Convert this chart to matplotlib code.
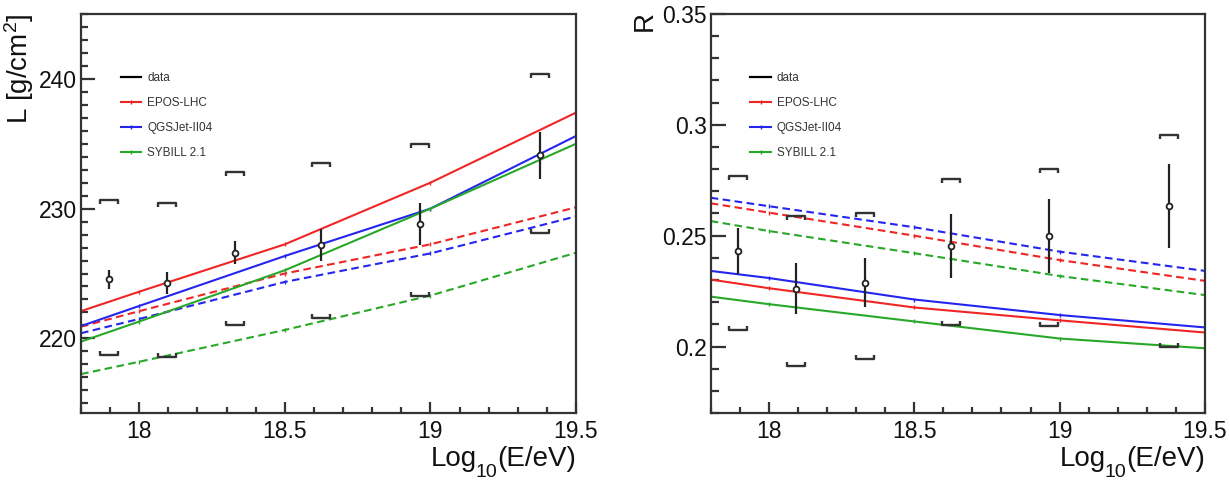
import matplotlib
matplotlib.use("Agg")
import matplotlib.pyplot as plt
from matplotlib.path import Path
from matplotlib.ticker import MultipleLocator, FuncFormatter
import numpy as np

plt.rcParams['font.family'] = ['Liberation Sans', 'DejaVu Sans']
plt.rcParams['mathtext.fontset'] = 'custom'
plt.rcParams['mathtext.rm'] = 'Liberation Sans'
plt.rcParams['mathtext.it'] = 'Liberation Sans:italic'
plt.rcParams['mathtext.default'] = 'regular'
plt.rcParams['lines.scale_dashes'] = False

# ---------------- data ----------------
data_x = [17.895, 18.095, 18.33, 18.625, 18.965, 19.375]

L_val = [224.55, 224.3, 226.6, 227.2, 228.8, 234.1]
L_err = [0.73, 0.85, 0.87, 1.2, 1.6, 1.8]
L_sys_up = [230.7, 230.4, 232.8, 233.5, 235.0, 240.4]
L_sys_lo = [218.7, 218.6, 221.0, 221.6, 223.25, 228.1]

R_val = [0.2431, 0.2261, 0.2288, 0.2453, 0.2498, 0.2633]
R_err = [0.0105, 0.0115, 0.0112, 0.0143, 0.0167, 0.019]
R_sys_up = [0.2769, 0.2588, 0.2604, 0.2757, 0.2802, 0.2956]
R_sys_lo = [0.2073, 0.1913, 0.1943, 0.2096, 0.2092, 0.2000]

model_x = [17.8, 18.0, 18.5, 19.0, 19.5]
models = ["EPOS-LHC", "QGSJet-II04", "SYBILL 2.1"]

L_solid = {
    "EPOS-LHC":    [222.1, 223.6, 227.25, 232.0, 237.4],
    "QGSJet-II04": [220.95, 222.5, 226.35, 230.0, 235.6],
    "SYBILL 2.1":  [219.75, 221.3, 225.25, 230.0, 235.0],
}
L_dashed = {
    "EPOS-LHC":    [220.9, 222.1, 225.0, 227.25, 230.1],
    "QGSJet-II04": [220.4, 221.5, 224.35, 226.55, 229.4],
    "SYBILL 2.1":  [217.25, 218.2, 220.65, 223.3, 226.6],
}
R_solid = {
    "EPOS-LHC":    [0.2302, 0.2263, 0.2176, 0.2118, 0.2063],
    "QGSJet-II04": [0.2341, 0.2309, 0.2212, 0.2142, 0.2086],
    "SYBILL 2.1":  [0.2225, 0.2191, 0.2113, 0.2036, 0.1992],
}
R_dashed = {
    "EPOS-LHC":    [0.2646, 0.2604, 0.2500, 0.2390, 0.2296],
    "QGSJet-II04": [0.2671, 0.2633, 0.2538, 0.2428, 0.2341],
    "SYBILL 2.1":  [0.2566, 0.2521, 0.2421, 0.2318, 0.2232],
}

colors = {"EPOS-LHC": "#f02525", "QGSJet-II04": "#2525f0", "SYBILL 2.1": "#28a828"}

# ---------------- style ----------------
W, H = 1230, 480
fig = plt.figure(figsize=(W / 100, H / 100), dpi=100)

ax1 = fig.add_axes([81 / W, 67 / H, 495 / W, 399 / H])
ax2 = fig.add_axes([710.7 / W, 67 / H, 494.3 / W, 399 / H])

up_bracket = Path([(-1, -0.45), (-1, 0), (1, 0), (1, -0.45)],
                  [Path.MOVETO, Path.LINETO, Path.LINETO, Path.LINETO])
lo_bracket = Path([(-1, 0.45), (-1, 0), (1, 0), (1, 0.45)],
                  [Path.MOVETO, Path.LINETO, Path.LINETO, Path.LINETO])

spine_col = "#333333"
gfmt = FuncFormatter(lambda v, p: f"{v:g}")


def draw_panel(ax, val, err, sup, slo, solid, dashed, ylim, ymaj, ymin_, ylen):
    handles = []
    h, = ax.plot([], [], color="black", lw=1.6, label="data")
    handles.append(h)
    for m in models:
        hl, = ax.plot(model_x, solid[m], color=colors[m], lw=1.5, label=m,
                      marker="|", markersize=3.5, markevery=[1, 2, 3, 4])
        ax.plot(model_x, dashed[m], color=colors[m], lw=1.5, dashes=(5.5, 3.2),
                marker="|", markersize=3.5, markevery=[1, 2, 3, 4])
        handles.append(hl)
    ax.errorbar(data_x, val, yerr=err, fmt="o", ms=4.2, mfc="white", mec="#222222",
                mew=1.3, ecolor="#222222", elinewidth=1.6, capsize=0, zorder=5)
    ax.plot(data_x, sup, ls="none", marker=up_bracket, ms=13, mfc="none",
            mec="#333333", mew=1.7, zorder=5)
    ax.plot(data_x, slo, ls="none", marker=lo_bracket, ms=13, mfc="none",
            mec="#333333", mew=1.7, zorder=5)

    ax.set_xlim(17.8, 19.5)
    ax.set_ylim(*ylim)
    ax.xaxis.set_major_locator(MultipleLocator(0.5))
    ax.xaxis.set_minor_locator(MultipleLocator(0.1))
    ax.yaxis.set_major_locator(MultipleLocator(ymaj))
    ax.yaxis.set_minor_locator(MultipleLocator(ymin_))
    ax.xaxis.set_major_formatter(gfmt)
    ax.yaxis.set_major_formatter(gfmt)
    ax.tick_params(axis="both", which="both", direction="in", top=False, right=False,
                   color=spine_col, width=1.6, labelsize=16.5, labelcolor="#111111")
    ax.tick_params(axis="x", which="major", length=8, pad=5)
    ax.tick_params(axis="x", which="minor", length=4)
    ax.tick_params(axis="y", which="major", length=ylen, pad=3)
    ax.tick_params(axis="y", which="minor", length=ylen * 0.5)
    for s in ax.spines.values():
        s.set_color(spine_col)
        s.set_linewidth(1.6)

    leg = ax.legend(handles=handles, loc="upper left", frameon=False,
                    bbox_to_anchor=(0.08, 0.855), fontsize=8.5, handlelength=1.75,
                    handletextpad=0.5, labelspacing=1.1, borderpad=0, borderaxespad=0)
    for t in leg.get_texts():
        t.set_color("#333333")
    return ax


draw_panel(ax1, L_val, L_err, L_sys_up, L_sys_lo, L_solid, L_dashed,
           (214.25, 245), 10, 1, 10)
draw_panel(ax2, R_val, R_err, R_sys_up, R_sys_lo, R_solid, R_dashed,
           (0.17, 0.35), 0.05, 0.01, 11)

# x-axis titles, ROOT-like low subscript: "Log" + "10" + "(E/eV)"
renderer = fig.canvas.get_renderer()


def xtitle(x_right_px, base_px=466):
    yb = 1 - base_px / H
    t3 = fig.text(x_right_px / W, yb, "(E/eV)", ha="right", va="baseline",
                  fontsize=20, color="#111111")
    x3 = t3.get_window_extent(renderer).x0
    t2 = fig.text((x3 + 0.5) / W, yb - 11 / H, "10", ha="right", va="baseline",
                  fontsize=14, color="#111111")
    x2 = t2.get_window_extent(renderer).x0
    fig.text((x2 + 0.5) / W, yb, "Log", ha="right", va="baseline",
             fontsize=20, color="#111111")


xtitle(576)
xtitle(1205)

fig.text(19 / W, 1 - 13 / H, "L [g/cm$^{2}$]", rotation=90, ha="center", va="top",
         fontsize=20, color="#111111")
fig.text(645 / W, 1 - 11 / H, "R", rotation=90, ha="center", va="top",
         fontsize=20, color="#111111")

fig.savefig("out.png", dpi=100)
